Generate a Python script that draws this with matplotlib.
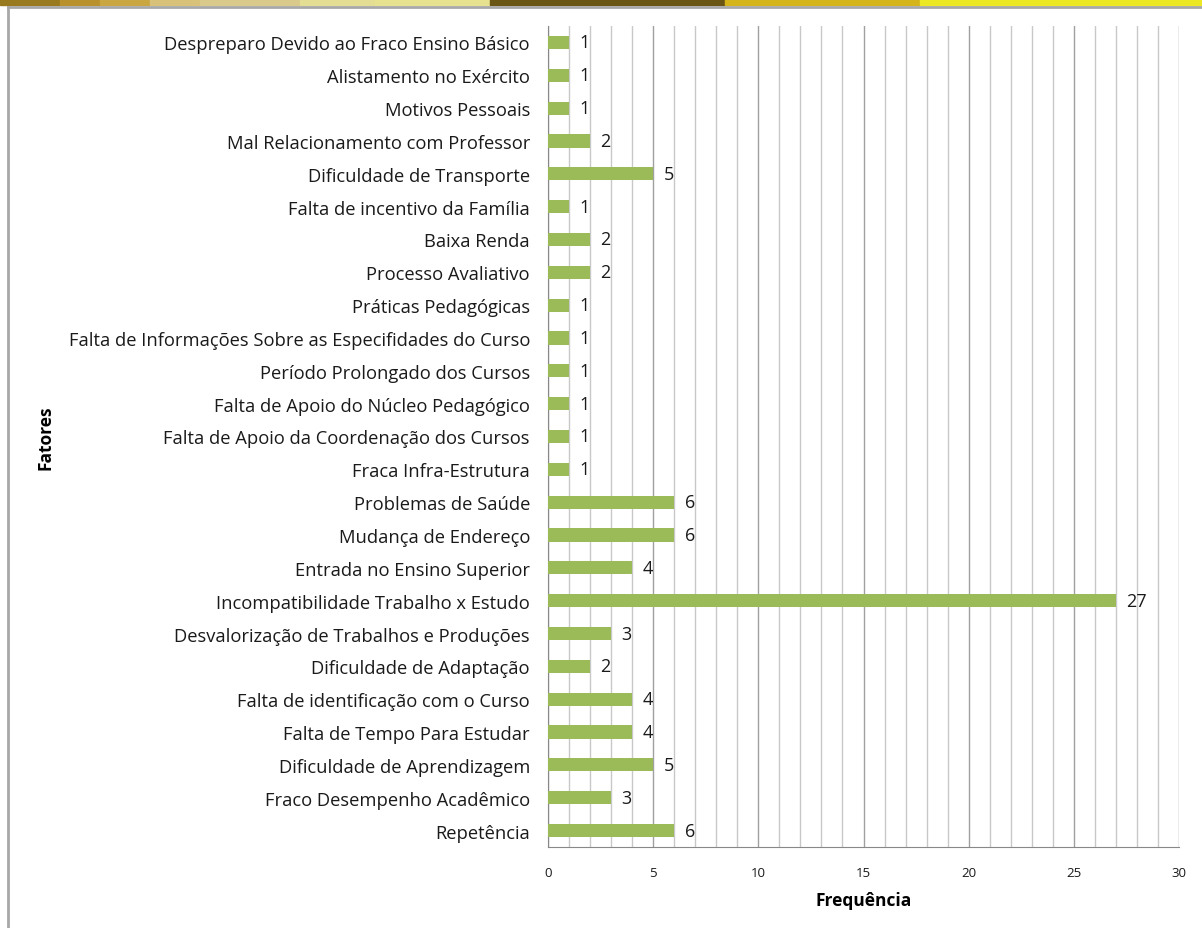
import matplotlib
matplotlib.use("Agg")
import matplotlib.pyplot as plt
from matplotlib.patches import Rectangle
from matplotlib.lines import Line2D
import numpy as np

categories = [
    "Despreparo Devido ao Fraco Ensino Básico",
    "Alistamento no Exército",
    "Motivos Pessoais",
    "Mal Relacionamento com Professor",
    "Dificuldade de Transporte",
    "Falta de incentivo da Família",
    "Baixa Renda",
    "Processo Avaliativo",
    "Práticas Pedagógicas",
    "Falta de Informações Sobre as Especifidades do Curso",
    "Período Prolongado dos Cursos",
    "Falta de Apoio do Núcleo Pedagógico",
    "Falta de Apoio da Coordenação dos Cursos",
    "Fraca Infra-Estrutura",
    "Problemas de Saúde",
    "Mudança de Endereço",
    "Entrada no Ensino Superior",
    "Incompatibilidade Trabalho x Estudo",
    "Desvalorização de Trabalhos e Produções",
    "Dificuldade de Adaptação",
    "Falta de identificação com o Curso",
    "Falta de Tempo Para Estudar",
    "Dificuldade de Aprendizagem",
    "Fraco Desempenho Acadêmico",
    "Repetência",
]
values = [1, 1, 1, 2, 5, 1, 2, 2, 1, 1, 1, 1, 1, 1, 6, 6, 4, 27, 3, 2, 4, 4, 5, 3, 6]
xticks = [0, 5, 10, 15, 20, 25, 30]

plt.rcParams['font.family'] = ['Open Sans', 'DejaVu Sans']

W, H = 1202, 929
fig = plt.figure(figsize=(W / 100, H / 100), dpi=100)

# decorative top band
band = [
    (0, 60, "#9A7A1E"), (60, 100, "#B8902C"), (100, 150, "#C9A640"),
    (150, 200, "#D8C27A"), (200, 300, "#D9C98A"), (300, 375, "#E3DE93"),
    (375, 490, "#E6E290"), (490, 725, "#6B5512"), (725, 920, "#D4B419"),
    (920, 1202, "#ECE824"),
]
for x0, x1, c in band:
    fig.patches.append(Rectangle((x0 / W, 1 - 6 / H), (x1 - x0) / W, 6 / H,
                                 transform=fig.transFigure, color=c, zorder=0))
fig.lines.append(Line2D([8 / W, 1], [1 - 7.5 / H, 1 - 7.5 / H], transform=fig.transFigure,
                        color="#A8A8A8", lw=2))
fig.lines.append(Line2D([8 / W, 8 / W], [0, 1 - 7.5 / H], transform=fig.transFigure,
                        color="#A8A8A8", lw=2))

left, right = 548 / W, 1179 / W
top, bottom = 1 - 27 / H, 1 - 848 / H
ax = fig.add_axes([left, bottom, right - left, top - bottom])

y = np.arange(len(categories))
ax.barh(y, values, height=0.4, color="#9BBB59", zorder=3)
ax.set_ylim(len(categories) - 0.5, -0.5)
ax.set_xlim(0, 30)
ax.set_yticks(y)
ax.set_yticklabels(categories, fontsize=13.2, color="#1a1a1a")
ax.set_xticks(xticks)
ax.set_xticklabels([str(t) for t in xticks], fontsize=9.5, color="#1a1a1a")
ax.set_xticks(np.arange(0, 31, 1), minor=True)
ax.tick_params(axis='y', length=0, pad=13)
ax.tick_params(axis='x', which='both', length=0, pad=14)
ax.grid(axis='x', which='minor', color="#C8C8C8", lw=1.0, zorder=0)
ax.grid(axis='x', which='major', color="#A0A0A0", lw=1.0, zorder=0)
for s in ['top', 'right']:
    ax.spines[s].set_visible(False)
ax.spines['left'].set_color("#888888")
ax.spines['bottom'].set_color("#888888")

for yi, v in zip(y, values):
    ax.text(v + 0.5, yi, str(v), va='center', ha='left', fontsize=13, color="#1a1a1a", zorder=4)

ax.set_xlabel("Frequência", fontsize=12.5, fontweight='bold', labelpad=8)
fig.text(45 / W, 1 - 438 / H, "Fatores", rotation=90, fontsize=12.5, fontweight='bold',
         ha='center', va='center')

fig.savefig("out.png", dpi=100)
